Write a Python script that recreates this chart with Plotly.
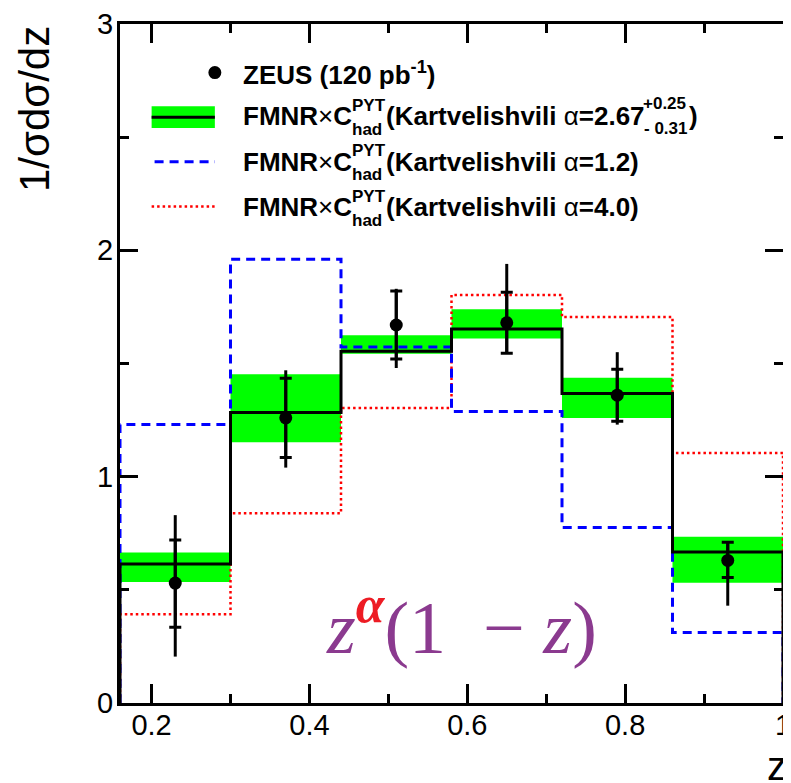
import plotly.graph_objects as go

# bin edges in z and ZEUS points
z_edges = [0.16, 0.30, 0.44, 0.58, 0.72, 0.86, 1.00]
zeus_z = [0.23, 0.37, 0.51, 0.65, 0.79, 0.93]
zeus_val = [0.53, 1.26, 1.67, 1.68, 1.36, 0.63]
zeus_stat_up = [0.19, 0.175, 0.15, 0.135, 0.115, 0.08]
zeus_stat_dn = [0.195, 0.175, 0.15, 0.135, 0.115, 0.075]
zeus_tot_up = [0.30, 0.21, 0.16, 0.26, 0.19, 0.08]
zeus_tot_dn = [0.325, 0.22, 0.19, 0.135, 0.13, 0.20]

# FMNR x C_had predictions
fmnr_best = [0.614, 1.284, 1.554, 1.652, 1.368, 0.667]
fmnr_best_hi = [0.665, 1.452, 1.625, 1.740, 1.437, 0.734]
fmnr_best_lo = [0.535, 1.152, 1.543, 1.610, 1.259, 0.531]
fmnr_a12 = [1.231, 1.961, 1.573, 1.288, 0.775, 0.311]
fmnr_a40 = [0.392, 0.838, 1.303, 1.803, 1.705, 1.105]

x_tickvals = [0.2, 0.4, 0.6, 0.8, 1.0]
x_ticktext = ["0.2", "0.4", "0.6", "0.8", "1"]
y_tickvals = [0, 1, 2, 3]

# the page body has an 8px margin, so the figure is 8px smaller
OFF = 8
W, H = 791 - OFF, 783 - OFF
L, R, T, B = 120 - OFF, 0, 18 - OFF, 80
PW, PH = W - L - R, H - T - B


def px(x):
    # page pixel -> paper
    return (x - OFF - L) / PW


def py(y):
    return (H - B - (y - OFF)) / PH


def step(vals):
    xs = [z_edges[0]] + z_edges[:-1] + [z_edges[-1], z_edges[-1]]
    ys = [0] + vals + [vals[-1], 0]
    return xs, ys


centers = [(a + b) / 2 for a, b in zip(z_edges[:-1], z_edges[1:])]
widths = [b - a for a, b in zip(z_edges[:-1], z_edges[1:])]

fig = go.Figure()

# uncertainty band
fig.add_trace(go.Bar(
    x=centers, y=[h - l for h, l in zip(fmnr_best_hi, fmnr_best_lo)], base=fmnr_best_lo,
    width=widths, marker=dict(color="#00ff00", line=dict(width=0)), showlegend=False,
))

xs, ys = step(fmnr_a40)
fig.add_trace(go.Scatter(x=xs, y=ys, mode="lines", line=dict(color="#ff0000", width=2.5, dash="2.5px,3px", shape="hv"), showlegend=False))
xs, ys = step(fmnr_a12)
fig.add_trace(go.Scatter(x=xs, y=ys, mode="lines", line=dict(color="#0000ff", width=3, dash="9px,6px", shape="hv"), showlegend=False))
xs, ys = step(fmnr_best)
fig.add_trace(go.Scatter(x=xs, y=ys, mode="lines", line=dict(color="black", width=3, shape="hv"), showlegend=False))

# total errors (no caps), then statistical (caps)
fig.add_trace(go.Scatter(
    x=zeus_z, y=zeus_val, mode="markers", marker=dict(size=1, color="black"),
    error_y=dict(type="data", symmetric=False, array=zeus_tot_up, arrayminus=zeus_tot_dn, color="black", thickness=3, width=0),
    showlegend=False,
))
fig.add_trace(go.Scatter(
    x=zeus_z, y=zeus_val, mode="markers", marker=dict(size=13, color="black"),
    error_y=dict(type="data", symmetric=False, array=zeus_stat_up, arrayminus=zeus_stat_dn, color="black", thickness=3, width=6),
    showlegend=False,
))

# legend symbols
shapes = [
    dict(type="circle", xref="paper", yref="paper", xsizemode="pixel", ysizemode="pixel",
         xanchor=px(216), yanchor=py(67), x0=-6.5, x1=6.5, y0=-6.5, y1=6.5,
         fillcolor="black", line=dict(width=0)),
    dict(type="rect", xref="paper", yref="paper", x0=px(152), x1=px(216), y0=py(123), y1=py(101),
         fillcolor="#00ff00", line=dict(width=0)),
    dict(type="line", xref="paper", yref="paper", x0=px(152), x1=px(216), y0=py(112), y1=py(112),
         line=dict(color="black", width=3)),
    dict(type="line", xref="paper", yref="paper", x0=px(155), x1=px(216), y0=py(157), y1=py(157),
         line=dict(color="#0000ff", width=3, dash="9px,6px")),
    dict(type="line", xref="paper", yref="paper", x0=px(152), x1=px(216), y0=py(202), y1=py(202),
         line=dict(color="#ff0000", width=2.5, dash="2.5px,3px")),
]

font = "Liberation Sans, Arial, sans-serif"
ann = []


def text(x, y, s, size, **kw):
    d = dict(xref="paper", yref="paper", x=px(x), y=py(y), text=s, showarrow=False,
             xanchor="left", yanchor="middle", font=dict(family=font, size=size, color="black"))
    d.update(kw)
    ann.append(d)


text(242, 68, "<b>ZEUS (120 pb<sup>-1</sup>)</b>", 26)
for ly, alpha in [(111, "2.67"), (157, "1.2"), (203, "4.0")]:
    text(242, ly, "<b>FMNR</b>×<b>C</b>", 26)
    text(353, ly - 11, "<b>PYT</b>", 17)
    text(353, ly + 13, "<b>had</b>", 17)
    if alpha == "2.67":
        text(387, ly, "<b>(Kartvelishvili</b> α<b>=2.67</b>", 26)
        text(647, ly - 13, "<b>+0.25</b>", 17)
        text(648, ly + 12, "<b>- 0.31</b>", 17)
        text(694, ly, "<b>)</b>", 26)
    else:
        text(387, ly, "<b>(Kartvelishvili</b> α<b>=" + alpha + ")</b>", 26)

# axis titles
ann.append(dict(xref="paper", yref="paper", x=px(33), y=py(18), text="1/σdσ/dz", textangle=-90,
                showarrow=False, xanchor="center", yanchor="top",
                font=dict(family=font, size=42, color="black")))
ann.append(dict(xref="paper", yref="paper", x=px(773), y=py(767), text="z", showarrow=False,
                xanchor="left", yanchor="middle", font=dict(family=font, size=40, color="black")))

# shape function label
ann.append(dict(xref="paper", yref="paper", x=px(466), y=py(622),
                text="<i>z</i><sup><span style='color:#ed1c24'><b><i>α</i></b></span></sup>(1\u2002−\u2005<i>z</i>)",
                showarrow=False, xanchor="center", yanchor="middle",
                font=dict(family="Liberation Serif, Times New Roman, serif", size=74, color="#8b3a8f")))

axis_common = dict(showline=True, linewidth=3, linecolor="black", mirror="ticks", ticks="inside",
                   tickwidth=3, tickcolor="black", showgrid=False, zeroline=False,
                   ticklabeloverflow="allow",
                   tickfont=dict(family=font, size=29, color="black"))

fig.update_layout(
    width=W, height=H, margin=dict(l=L, r=R, t=T, b=B),
    paper_bgcolor="white", plot_bgcolor="white", barmode="overlay", showlegend=False,
    xaxis=dict(range=[z_edges[0], z_edges[-1]], tickvals=x_tickvals, ticktext=x_ticktext, ticklen=19,
               ticklabelstandoff=-6,
               minor=dict(ticks="inside", ticklen=9, tickwidth=3, tickcolor="black", tick0=0.1, dtick=0.1),
               **axis_common),
    yaxis=dict(range=[0, 3], tickvals=y_tickvals, ticklen=18, ticklabelstandoff=-2,
               minor=dict(ticks="inside", ticklen=9, tickwidth=3, tickcolor="black", tick0=0, dtick=0.5),
               **axis_common),
    shapes=shapes, annotations=ann,
)

fig.write_html("out.html")
